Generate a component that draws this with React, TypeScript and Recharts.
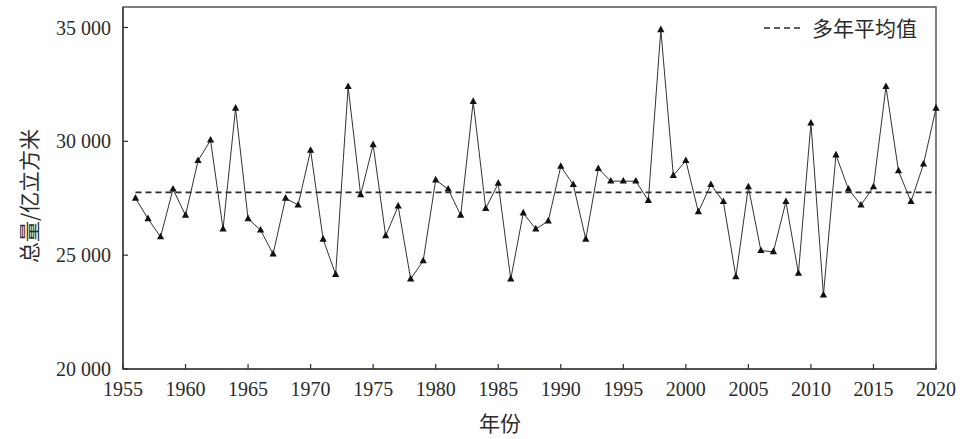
import { LineChart, Line, XAxis, YAxis, ReferenceLine, ReferenceArea, Legend, Label } from "recharts";

const YEARS = [
  1956, 1957, 1958, 1959, 1960, 1961, 1962, 1963, 1964, 1965,
  1966, 1967, 1968, 1969, 1970, 1971, 1972, 1973, 1974, 1975,
  1976, 1977, 1978, 1979, 1980, 1981, 1982, 1983, 1984, 1985,
  1986, 1987, 1988, 1989, 1990, 1991, 1992, 1993, 1994, 1995,
  1996, 1997, 1998, 1999, 2000, 2001, 2002, 2003, 2004, 2005,
  2006, 2007, 2008, 2009, 2010, 2011, 2012, 2013, 2014, 2015,
  2016, 2017, 2018, 2019, 2020,
];

// 总量 (亿立方米)
const TOTALS = [
  27500, 26600, 25800, 27900, 26750, 29150, 30050, 26150, 31450, 26600,
  26100, 25050, 27500, 27200, 29600, 25700, 24150, 32400, 27650, 29850,
  25850, 27150, 23950, 24750, 28300, 27900, 26750, 31750, 27050, 28150,
  23950, 26850, 26150, 26500, 28900, 28100, 25700, 28800, 28250, 28250,
  28250, 27400, 34900, 28500, 29150, 26900, 28100, 27350, 24050, 28000,
  25200, 25150, 27350, 24200, 30800, 23250, 29400, 27900, 27200, 28000,
  32400, 28700, 27350, 29000, 31450,
];

const MEAN = 27760; // 多年平均值
const X_TICKS = [1955, 1960, 1965, 1970, 1975, 1980, 1985, 1990, 1995, 2000, 2005, 2010, 2015, 2020];
const Y_TICKS = [20000, 25000, 30000, 35000];

const data = YEARS.map((year, i) => ({ year, total: TOTALS[i] }));

const SERIF = "'Liberation Serif', 'Times New Roman', serif";
const CJK = "'Noto Sans CJK SC', sans-serif";
const INK = "#2b2b2b";
const X_MARGIN = 13;
const Y_MARGIN = 12;

const fmt = (v: number) => {
  const s = String(v);
  return s.length > 3 ? `${s.slice(0, -3)} ${s.slice(-3)}` : s;
};

function XTick({ x, y, payload }: any) {
  const axisY = y - X_MARGIN;
  return (
    <g>
      <line x1={x} x2={x} y1={axisY} y2={axisY - 5} stroke={INK} strokeWidth={1.2} />
      <text x={x} y={y} dy="0.71em" textAnchor="middle" fill={INK} fontSize={20} fontFamily={SERIF}>
        {payload.value}
      </text>
    </g>
  );
}

function YTick({ x, y, payload }: any) {
  const axisX = x + Y_MARGIN;
  return (
    <g>
      <line x1={axisX} x2={axisX + 5} y1={y} y2={y} stroke={INK} strokeWidth={1.2} />
      <text x={x} y={y} dy="0.355em" textAnchor="end" fill={INK} fontSize={20} fontFamily={SERIF}>
        {fmt(payload.value)}
      </text>
    </g>
  );
}

function Triangle({ cx, cy, index }: any) {
  if (cx == null || cy == null) return <g key={index} />;
  return (
    <polygon
      key={index}
      points={`${cx},${cy - 4.2} ${cx - 3.6},${cy + 2.4} ${cx + 3.6},${cy + 2.4}`}
      fill="#111"
    />
  );
}

function MeanLegend() {
  return (
    <div style={{ display: "flex", alignItems: "center", gap: 10 }}>
      <svg width={38} height={4}>
        <line x1={0} x2={38} y1={2} y2={2} stroke={INK} strokeWidth={1.6} strokeDasharray="6 4" />
      </svg>
      <span style={{ fontFamily: CJK, fontSize: 21, color: INK, lineHeight: 1 }}>多年平均值</span>
    </div>
  );
}

export default function App() {
  return (
    <div style={{ position: "absolute", left: 0, top: 0, background: "#fff" }}>
      <LineChart width={973} height={439} data={data} margin={{ top: 7, right: 37, left: 13, bottom: 40 }}>
        <ReferenceArea x1={1955} x2={2020} y1={20000} y2={35900} fill="none" stroke="#555" strokeWidth={1.5} />
        <XAxis
          dataKey="year"
          type="number"
          domain={[1955, 2020]}
          ticks={X_TICKS}
          interval={0}
          height={30}
          tickSize={0}
          tickMargin={X_MARGIN}
          tickLine={false}
          tick={<XTick />}
          axisLine={{ stroke: "#444", strokeWidth: 1.5 }}
        >
          <Label
            content={() => (
              <text x={500} y={422} textAnchor="middle" dominantBaseline="central" fill={INK} fontSize={21} fontFamily={CJK}>
                年份
              </text>
            )}
          />
        </XAxis>
        <YAxis
          type="number"
          domain={[20000, 35900]}
          ticks={Y_TICKS}
          interval={0}
          width={110}
          tickSize={0}
          tickMargin={Y_MARGIN}
          tickLine={false}
          tick={<YTick />}
          axisLine={{ stroke: "#444", strokeWidth: 1.5 }}
        >
          <Label
            content={() => (
              <text
                transform="translate(28,196) rotate(-90)"
                textAnchor="middle"
                dominantBaseline="central"
                fill={INK}
                fontSize={21}
                fontFamily={CJK}
              >
                总量/亿立方米
              </text>
            )}
          />
        </YAxis>
        <ReferenceLine
          segment={[{ x: 1956, y: MEAN }, { x: 2020, y: MEAN }]}
          stroke={INK}
          strokeWidth={1.6}
          strokeDasharray="6 4"
        />
        <Line
          type="linear"
          dataKey="total"
          name="总量"
          stroke="#333"
          strokeWidth={1}
          dot={Triangle}
          activeDot={false}
          isAnimationActive={false}
        />
        <Legend
          layout="vertical"
          align="center"
          verticalAlign="middle"
          content={() => <MeanLegend />}
          wrapperStyle={{ top: 17, left: 764, width: 180, height: 24 }}
        />
      </LineChart>
    </div>
  );
}
